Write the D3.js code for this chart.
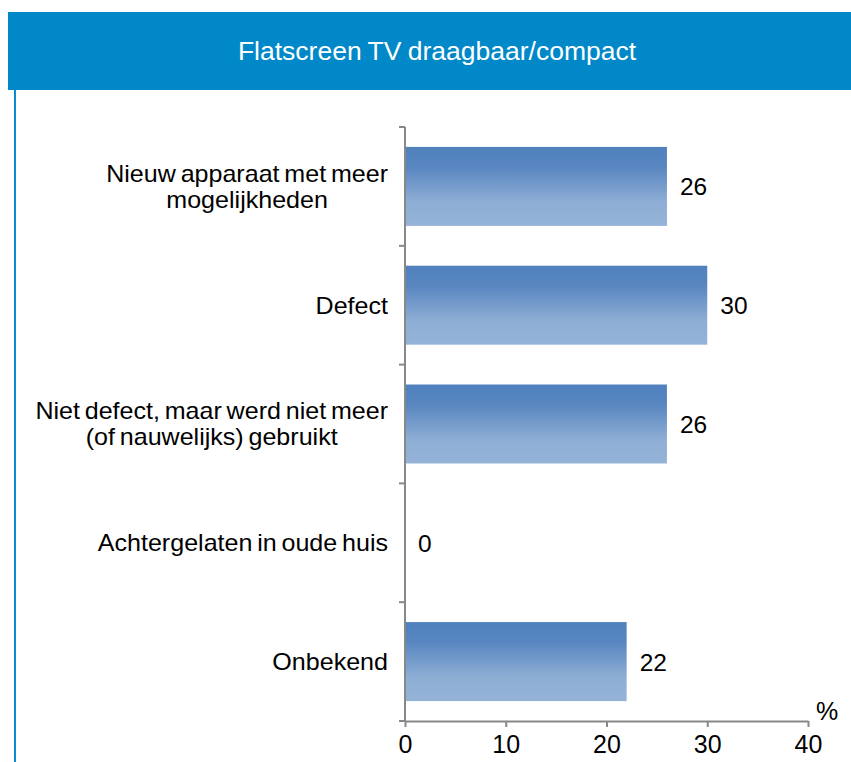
<html>
<head>
<script src="https://d3js.org/d3.v7.min.js"></script>
<style>
  body { margin: 0; background: #fff; }
  text { font-family: "Liberation Sans", Arial, sans-serif; }
</style>
</head>
<body>
<svg id="chart" width="851" height="762"></svg>
<script>
const categories = [
  ["Nieuw apparaat met meer", "mogelijkheden"],
  ["Defect"],
  ["Niet defect, maar werd niet meer", "(of nauwelijks) gebruikt"],
  ["Achtergelaten in oude huis"],
  ["Onbekend"]
];
const values = [26, 30, 26, 0, 22];
const xTicks = [0, 10, 20, 30, 40];
const title = "Flatscreen TV draagbaar/compact";

const svg = d3.select("svg#chart");
const margin = { top: 127, left: 405, right: 43, bottom: 41 };
const width = 851, height = 762;

// header band
svg.append("rect").attr("x", 8).attr("y", 12).attr("width", width - 8).attr("height", 78)
  .attr("fill", "#0088c8");
svg.append("rect").attr("x", 14).attr("y", 90).attr("width", 2).attr("height", height - 90)
  .attr("fill", "#0a8ad0");
svg.append("text").attr("x", 437).attr("y", 60).attr("text-anchor", "middle")
  .attr("fill", "#fff").attr("font-size", 26.5).attr("word-spacing", -1).text(title);

const defs = svg.append("defs");
const grad = defs.append("linearGradient").attr("id", "barGrad")
  .attr("x1", 0).attr("y1", 0).attr("x2", 0).attr("y2", 1);
grad.append("stop").attr("offset", "0%").attr("stop-color", "#4f81bd");
grad.append("stop").attr("offset", "25%").attr("stop-color", "#5886c0");
grad.append("stop").attr("offset", "70%").attr("stop-color", "#8eaed5");
grad.append("stop").attr("offset", "100%").attr("stop-color", "#95b3d7");

const x = d3.scaleLinear().domain([0, 40]).range([margin.left, width - margin.right]);
const y = d3.scaleBand().domain(d3.range(categories.length))
  .range([margin.top, height - margin.bottom]).paddingInner(0.335).paddingOuter(0.1675);

// bars
svg.selectAll("rect.bar").data(values).join("rect")
  .attr("class", "bar")
  .attr("x", x(0))
  .attr("y", (d, i) => y(i))
  .attr("width", d => x(d) - x(0))
  .attr("height", y.bandwidth())
  .attr("fill", "url(#barGrad)");

// value labels
svg.selectAll("text.val").data(values).join("text")
  .attr("class", "val")
  .attr("x", d => x(d) + 13)
  .attr("y", (d, i) => y(i) + y.bandwidth() / 2 + 9)
  .attr("font-size", 24.5)
  .attr("fill", "#000")
  .text(d => d);

// category labels: block right-aligned, lines centred within the block
const lineH = 26;
const catG = svg.append("g").attr("transform", "translate(388,0) scale(1.09,1)");
const cat = catG.selectAll("text.cat").data(categories).join("text")
  .attr("class", "cat")
  .attr("text-anchor", "middle")
  .attr("font-size", 23)
  .attr("fill", "#000")
  .attr("word-spacing", -2)
  .attr("y", (d, i) => y(i) + y.bandwidth() / 2 + 8.5 - (d.length - 1) * lineH / 2);
cat.selectAll("tspan").data(d => d).join("tspan")
  .attr("dy", (d, j) => j === 0 ? 0 : lineH)
  .text(d => d);
cat.each(function () {
  const spans = d3.select(this).selectAll("tspan");
  let maxW = 0;
  spans.each(function () { maxW = Math.max(maxW, this.getComputedTextLength()); });
  spans.attr("x", -maxW / 2);
});

// x axis
const xAxis = svg.append("g").attr("transform", `translate(0,${height - margin.bottom})`)
  .call(d3.axisBottom(x).tickValues(xTicks).tickSize(6).tickSizeOuter(0).tickPadding(8));
xAxis.select(".domain").attr("stroke", "#888").attr("stroke-width", 2);
xAxis.selectAll(".tick line").attr("stroke", "#888").attr("stroke-width", 2);
xAxis.selectAll(".tick text").attr("font-size", 25).attr("fill", "#000")
  .attr("font-family", "Liberation Sans, Arial, sans-serif");

// y axis with ticks at band boundaries
const yEdges = d3.range(categories.length + 1).map(i => margin.top + i * y.step());
svg.append("line").attr("x1", x(0)).attr("x2", x(0))
  .attr("y1", margin.top).attr("y2", height - margin.bottom)
  .attr("stroke", "#888").attr("stroke-width", 2);
svg.selectAll("line.ytick").data(yEdges).join("line")
  .attr("class", "ytick")
  .attr("x1", x(0) - 6).attr("x2", x(0))
  .attr("y1", d => d).attr("y2", d => d)
  .attr("stroke", "#888").attr("stroke-width", 2);

svg.append("text").attr("x", 827).attr("y", 720).attr("text-anchor", "middle")
  .attr("font-size", 25).attr("fill", "#000").text("%");
</script>
</body>
</html>
